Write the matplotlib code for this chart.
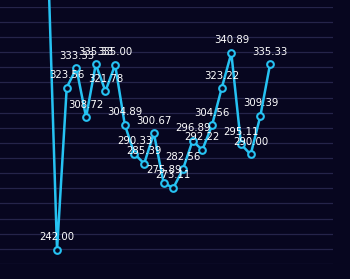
import matplotlib.pyplot as plt

# values (first point runs off the top)
values = [398.0, 242.00, 323.56, 333.33, 308.72, 335.33, 321.78, 335.00, 304.89,
          290.33, 285.39, 300.67, 275.89, 273.11, 282.56, 296.89, 292.22, 304.56,
          323.22, 340.89, 295.11, 290.00, 309.39, 335.33]
labels = ["%.2f" % v for v in values]
grid_levels = [235.0 + 7.6 * k for k in range(18)]

bg = "#07061f"
line_color = "#26c2f2"

fig = plt.figure(figsize=(3.5, 2.79), dpi=100, facecolor=bg)
ax = fig.add_axes([0, 15 / 279, 333 / 350, (264 - 6.7) / 279])
ax.set_facecolor(bg)

x = list(range(len(values)))
ax.plot(x, values, color=line_color, lw=1.8, marker="o", ms=4.8, mew=1.5,
        mfc=bg, mec=line_color, clip_on=False, zorder=3)

for xi, v, lab in zip(x, values, labels):
    if v > grid_levels[-1]:
        continue
    ax.annotate(lab, (xi, v), xytext=(0, 5.5), textcoords="offset points",
                ha="center", va="bottom", color="white", fontsize=7.3,
                zorder=5, annotation_clip=False)

ax.set_xlim(-4.89, 29.5)
ax.set_ylim(grid_levels[0], grid_levels[-1])
ax.set_yticks(grid_levels)
ax.grid(axis="y", color="#25244a", lw=0.9)
ax.tick_params(left=False, bottom=False, labelleft=False, labelbottom=False)
for s in ax.spines.values():
    s.set_visible(False)

fig.savefig("out.png", dpi=100, facecolor=bg)
